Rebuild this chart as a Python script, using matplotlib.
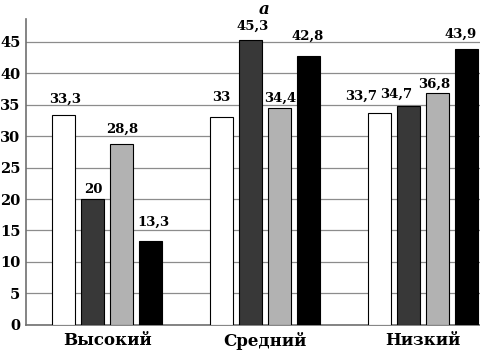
import numpy as np
import matplotlib
matplotlib.use("Agg")
import matplotlib.pyplot as plt

# data
categories = ["Высокий", "Средний", "Низкий"]
s1 = [33.3, 33.0, 33.7]
s2 = [20.0, 45.3, 34.7]
s3 = [28.8, 34.4, 36.8]
s4 = [13.3, 42.8, 43.9]
yticks = [0, 5, 10, 15, 20, 25, 30, 35, 40, 45]

colors = ["white", "#383838", "#b2b2b2", "black"]

# label nudges in pixels (dx, gap above bar), per series, per category
label_dx = [[1.5, 0, -18], [1, 2, -12], [0.5, 1, -3], [2.5, -0.5, -6]]
label_gap = [[13, 16, 13], [6, 10, 9], [11, 7, 5], [15, 16, 11]]

plt.rcParams['font.family'] = ['DejaVu Serif']
plt.rcParams['font.weight'] = 'bold'

fig = plt.figure(figsize=(4.8, 3.52), dpi=100)
ax = fig.add_axes([0.054, 0.077, 0.946, 0.869])

x = np.arange(len(categories))
step = 0.1835
width = 0.146
px = 0.72  # points per pixel at 100 dpi
series = [s1, s2, s3, s4]
for i, vals in enumerate(series):
    pos = x + (i - 1.5) * step
    bars = ax.bar(pos, vals, width, color=colors[i], edgecolor="black",
                  linewidth=0.8, zorder=3)
    for j, (b, v) in enumerate(zip(bars, vals)):
        txt = f"{v:g}".replace(".", ",")
        ax.annotate(txt, (b.get_x() + b.get_width() / 2, v),
                    xytext=(label_dx[i][j] * px, label_gap[i][j] * px),
                    textcoords="offset points", ha="center", va="baseline",
                    fontsize=9.5, fontweight="bold", annotation_clip=False)

ax.set_xlim(-0.513, 2.36)
ax.set_ylim(0, 48.6)
ax.set_yticks(yticks)
ax.set_xticks(x)
ax.set_xticklabels(categories, fontsize=12, fontweight="bold")
ax.tick_params(axis="both", length=0)
ax.tick_params(axis="x", pad=5, labelsize=12)
ax.tick_params(axis="y", pad=4, labelsize=10.5)
ax.yaxis.grid(True, color="#8c8c8c", linewidth=0.9, zorder=0)
ax.set_axisbelow(True)

for side in ["top", "right"]:
    ax.spines[side].set_visible(False)
ax.spines["left"].set_color("#707070")
ax.spines["left"].set_linewidth(1.2)
ax.spines["bottom"].set_color("#707070")
ax.spines["bottom"].set_linewidth(1.2)

fig.text(264 / 480, 0.997, "a", ha="center", va="top", fontsize=12,
         fontweight="bold", style="italic")

fig.savefig("out.png", dpi=100)
